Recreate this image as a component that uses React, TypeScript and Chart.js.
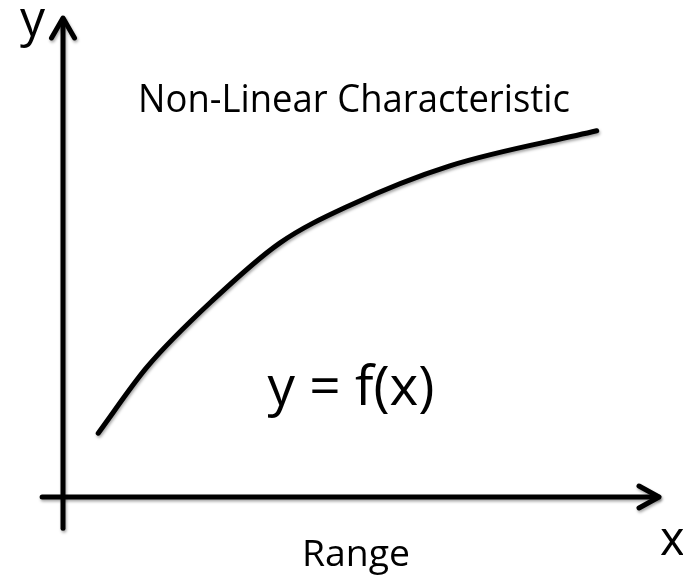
import React, { useEffect, useRef } from "react";
import { Chart, registerables } from "chart.js";

Chart.register(...registerables);

// Curve of the non-linear characteristic (chart units, origin at the axes' crossing)
const curveX = [5.9, 14.1, 25.1, 36.3, 48.1, 64.8, 89.4];
const curveY = [13.3, 27.1, 41.0, 52.9, 60.8, 69.0, 76.3];

// Text labels
const titleText = "Non-Linear Characteristic";
const formulaText = "y = f(x)";
const xTitle = "Range";
const yAxisLetter = "y";
const xAxisLetter = "x";

const FONT = "'Open Sans', 'DejaVu Sans', sans-serif";

const W = 683;
const H = 576;

function drawFitted(ctx: CanvasRenderingContext2D, text: string, cx: number, baseline: number, size: number, targetWidth: number) {
  ctx.save();
  ctx.font = `${size}px ${FONT}`;
  const w = ctx.measureText(text).width;
  const sx = targetWidth / w;
  ctx.translate(cx, baseline);
  ctx.scale(sx, 1);
  ctx.textAlign = "center";
  ctx.textBaseline = "alphabetic";
  ctx.fillStyle = "#000";
  ctx.fillText(text, 0, 0);
  ctx.restore();
}

const diagramPlugin = {
  id: "diagram",
  beforeDatasetsDraw(chart: any) {
    const ctx = chart.ctx as CanvasRenderingContext2D;
    const xs = chart.scales.x;
    const ys = chart.scales.y;
    const x0 = xs.getPixelForValue(0);
    const y0 = ys.getPixelForValue(0);
    const xEnd = xs.getPixelForValue(100);
    const yTop = ys.getPixelForValue(100);
    const xStart = xs.getPixelForValue(-3.5);
    const yBottom = ys.getPixelForValue(-6.5);

    ctx.save();
    ctx.strokeStyle = "#000";
    ctx.lineWidth = 5;
    ctx.lineCap = "round";
    ctx.lineJoin = "round";
    ctx.shadowColor = "rgba(0,0,0,0.35)";
    ctx.shadowBlur = 3;
    ctx.shadowOffsetX = 1;
    ctx.shadowOffsetY = 2;

    // y axis
    ctx.beginPath();
    ctx.moveTo(x0, yBottom);
    ctx.lineTo(x0, yTop + 2);
    ctx.stroke();
    ctx.beginPath();
    ctx.moveTo(x0 - 11.5, yTop + 21);
    ctx.lineTo(x0, yTop + 1);
    ctx.lineTo(x0 + 11.5, yTop + 21);
    ctx.stroke();

    // x axis
    ctx.beginPath();
    ctx.moveTo(xStart, y0);
    ctx.lineTo(xEnd - 2, y0);
    ctx.stroke();
    ctx.beginPath();
    ctx.moveTo(xEnd - 21, y0 - 11);
    ctx.lineTo(xEnd - 1, y0);
    ctx.lineTo(xEnd - 21, y0 + 11);
    ctx.stroke();
    ctx.restore();

    // texts
    drawFitted(ctx, titleText, 354, 112, 39, 432);
    drawFitted(ctx, formulaText, 351, 405, 54, 167);
    drawFitted(ctx, xTitle, 356, 566, 37, 108);

    ctx.save();
    ctx.fillStyle = "#000";
    ctx.textAlign = "left";
    ctx.textBaseline = "alphabetic";
    ctx.font = `50px ${FONT}`;
    ctx.fillText(yAxisLetter, 20, 36);
    ctx.font = `47px ${FONT}`;
    ctx.fillText(xAxisLetter, 660, 555);
    ctx.restore();
  },
};

export default function App() {
  const ref = useRef<HTMLCanvasElement | null>(null);

  useEffect(() => {
    if (!ref.current) return;
    const points = curveX.map((x, i) => ({ x, y: curveY[i] }));
    const chart = new Chart(ref.current, {
      type: "scatter",
      data: {
        datasets: [
          {
            data: points,
            showLine: true,
            borderColor: "#000",
            borderWidth: 5,
            borderCapStyle: "round",
            borderJoinStyle: "round",
            pointRadius: 0,
            pointHoverRadius: 0,
            tension: 0.4,
            cubicInterpolationMode: "monotone",
          } as any,
        ],
      },
      options: {
        responsive: false,
        animation: false,
        events: [],
        layout: { padding: { left: 63, right: 23, top: 17, bottom: 79 } },
        scales: {
          x: { type: "linear", min: 0, max: 100, display: false },
          y: { type: "linear", min: 0, max: 100, display: false },
        },
        plugins: {
          legend: { display: false },
          tooltip: { enabled: false },
          title: { display: false },
        },
      },
      plugins: [
        diagramPlugin,
        {
          id: "curveShadow",
          beforeDatasetDraw(chart: any) {
            const ctx = chart.ctx;
            ctx.save();
            ctx.shadowColor = "rgba(0,0,0,0.35)";
            ctx.shadowBlur = 3;
            ctx.shadowOffsetX = 1;
            ctx.shadowOffsetY = 2;
          },
          afterDatasetDraw(chart: any) {
            chart.ctx.restore();
          },
        },
      ],
    });
    return () => chart.destroy();
  }, []);

  return (
    <div style={{ position: "fixed", left: 0, top: 0, width: W, height: H, background: "#fff" }}>
      <canvas ref={ref} width={W} height={H} style={{ display: "block", width: W, height: H }} />
    </div>
  );
}
